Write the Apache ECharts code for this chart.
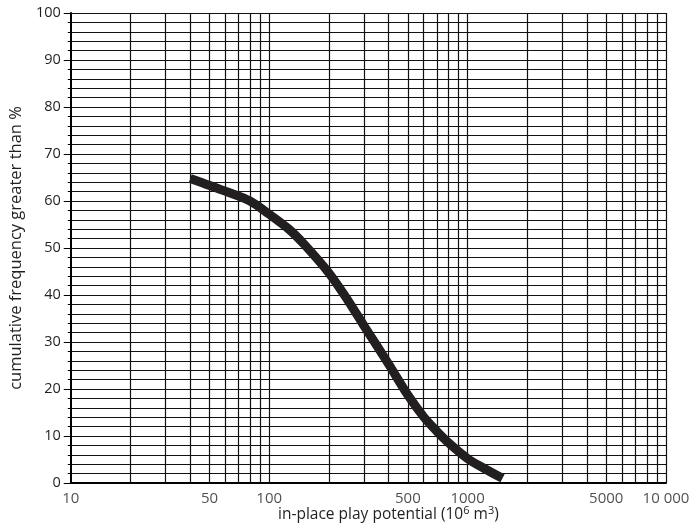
<!DOCTYPE html>
<html><head><meta charset="utf-8">
<script src="https://cdn.jsdelivr.net/npm/echarts@6/dist/echarts.min.js"></script>
<style>html,body{margin:0;padding:0;background:#fff}#c{width:698px;height:529px}</style>
</head><body><div id="c"></div>
<script>
const potential = [40, 60, 80, 100, 125, 150, 200, 250, 300, 400, 500, 600, 700, 800, 1000, 1200, 1500];
const cumFreq   = [64.8, 62.1, 60, 57.2, 54.1, 50.8, 44.7, 38.8, 33.5, 25.3, 18.7, 14.1, 11.0, 8.6, 5.2, 3.2, 1.0];
const xTickValues = [10, 50, 100, 500, 1000, 5000, 10000];
const xTickLabels = ['10', '50', '100', '500', '1000', '5000', '10 000'];
const xGridValues = [20, 30, 40, 50, 60, 70, 80, 90, 100, 200, 300, 400, 500, 600, 700, 800, 900, 1000,
                     2000, 3000, 4000, 5000, 6000, 7000, 8000, 9000, 10000];
const yMin = 0, yMax = 100, yStep = 10;

const textColor = '#231f20';
const gridColor = '#111';
const font = '"Open Sans", "Noto Sans", sans-serif';

const chart = echarts.init(document.getElementById('c'), null, {renderer: 'canvas'});
chart.setOption({
  animation: false,
  backgroundColor: '#fff',
  grid: {left: 67, right: 32, top: 13, bottom: 46, containLabel: false},
  xAxis: {
    type: 'log', logBase: 10, min: 10, max: 10000,
    axisLine: {show: true, onZero: false, lineStyle: {color: '#000', width: 2}},
    axisTick: {show: false},
    axisLabel: {show: false},
    splitLine: {show: false},
    minorSplitLine: {show: false},
    name: '{a|in-place play potential (10}{s|6}{a| m}{s|3}{a|)}',
    nameLocation: 'middle',
    nameGap: 22,
    nameTextStyle: {
      padding: [0, 0, 0, 40],
      rich: {
        a: {fontSize: 15.5, fontFamily: font, color: textColor, lineHeight: 19},
        s: {fontSize: 11, fontFamily: font, color: textColor, verticalAlign: 'top', lineHeight: 19}
      }
    }
  },
  yAxis: {
    type: 'value', min: yMin, max: yMax, interval: yStep,
    axisLine: {show: true, onZero: false, lineStyle: {color: '#000', width: 2}},
    axisTick: {show: true, length: 7, lineStyle: {color: '#000', width: 1}},
    minorTick: {show: true, splitNumber: 5, length: 3, lineStyle: {color: '#000', width: 1}},
    axisLabel: {margin: 10, fontSize: 14.5, fontFamily: font, color: textColor},
    splitLine: {show: true, lineStyle: {color: gridColor, width: 1.2}},
    minorSplitLine: {show: true, lineStyle: {color: gridColor, width: 1.2}},
    name: 'cumulative frequency greater than %',
    nameLocation: 'middle',
    nameGap: 33,
    nameTextStyle: {fontSize: 16.5, fontFamily: font, color: textColor}
  },
  series: [
    {
      type: 'scatter',
      silent: true,
      symbolSize: 0,
      itemStyle: {color: 'rgba(0,0,0,0)'},
      clip: false,
      data: xTickValues.map(v => [v, yMin]),
      label: {
        show: true, position: 'bottom', distance: 8,
        fontSize: 15, fontFamily: font, color: textColor,
        formatter: p => xTickLabels[p.dataIndex]
      },
      markLine: {
        silent: true,
        symbol: ['none', 'none'],
        label: {show: false},
        emphasis: {disabled: true},
        lineStyle: {color: gridColor, width: 1.2, type: 'solid'},
        data: xGridValues.map(v => ({xAxis: v}))
      }
    },
    {
      type: 'line',
      data: potential.map((v, i) => [v, cumFreq[i]]),
      smooth: 0.3,
      showSymbol: false,
      symbol: 'none',
      lineStyle: {color: '#231f20', width: 9, cap: 'butt', join: 'round'},
      z: 5
    }
  ]
});
</script>
</body></html>
